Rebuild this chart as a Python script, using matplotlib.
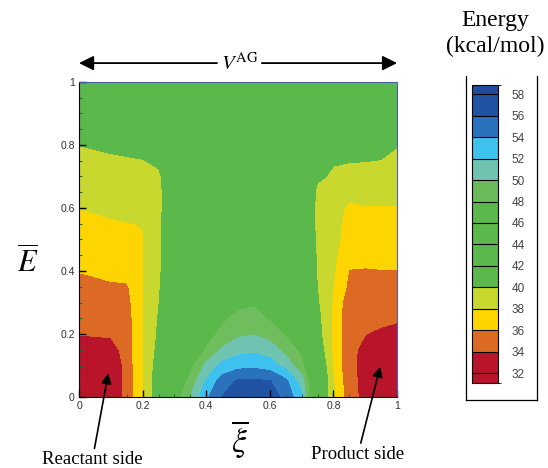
import numpy as np
import matplotlib
matplotlib.use('Agg')
import matplotlib.pyplot as plt
from matplotlib.colors import ListedColormap, BoundaryNorm
from matplotlib.cm import ScalarMappable
from matplotlib.ticker import MultipleLocator

plt.rcParams['mathtext.fontset'] = 'stix'

# grid nodes: reaction coordinate (xi bar) and normalised energy (E bar)
xi_nodes = [0.00, 0.05, 0.10, 0.15, 0.20, 0.25, 0.30, 0.35, 0.40, 0.45, 0.50,
            0.55, 0.60, 0.65, 0.70, 0.75, 0.80, 0.85, 0.90, 0.95, 1.00]
e_nodes = xi_nodes

# energy (kcal/mol), one row per E node, xi = 0 ... 1
e_000 = [31.0, 31.2, 31.7, 34.8, 37.8, 41.5, 46.8, 50.05, 53.6, 56.05, 57.2, 57.6, 57.0, 55.4, 52.4, 43.0, 38.36, 34.8, 33.37, 32.5, 32.0]
e_005 = [31.0, 31.2, 31.7, 34.8, 37.8, 41.3, 45.5, 48.7, 52.25, 54.94, 56.3, 56.35, 56.1, 54.5, 51.05, 43.5, 38.07, 34.5, 33.5, 32.6, 32.1]
e_010 = [31.0, 31.2, 31.8, 34.8, 37.8, 41.1, 44.5, 47.4, 50.43, 52.6, 53.3, 53.5, 53.0, 51.23, 48.69, 42.5, 37.76, 34.3, 33.6, 32.8, 32.2]
e_015 = [32.8, 32.85, 32.9, 35.0, 37.8, 40.6, 44.5, 46.0, 48.17, 50.3, 51.3, 51.6, 51.0, 49.3, 47.4, 41.5, 37.6, 34.3, 33.7, 33.2, 32.5]
e_020 = [34.1, 34.2, 34.35, 35.1, 37.8, 40.3, 44.5, 45.5, 47.2, 48.5, 49.6, 49.9, 49.2, 47.7, 46.0, 40.8, 37.6, 34.5, 34.02, 33.7, 33.5]
e_025 = [34.6, 34.7, 34.85, 35.1, 37.8, 40.14, 44.0, 45.0, 45.8, 47.6, 48.5, 48.8, 47.7, 46.5, 45.5, 40.6, 37.6, 34.4, 34.5, 34.4, 34.2]
e_030 = [35.1, 35.2, 35.35, 35.3, 37.9, 39.9, 42.5, 44.3, 45.0, 46.5, 47.5, 47.7, 46.8, 45.5, 44.8, 40.2, 37.8, 34.6, 35.0, 34.9, 34.75]
e_035 = [35.55, 35.65, 35.8, 35.7, 37.95, 39.75, 42.0, 44.0, 44.5, 45.5, 46.3, 46.5, 45.8, 45.0, 44.5, 39.95, 37.98, 35.5, 35.5, 35.4, 35.35]
e_040 = [36.05, 36.2, 36.4, 36.9, 37.95, 39.7, 41.6, 44.0, 44.0, 44.5, 45.2, 45.3, 45.0, 44.5, 44.3, 39.7, 38.2, 35.9, 35.9, 35.95, 35.95]
e_045 = [36.55, 36.7, 36.85, 37.0, 37.95, 39.65, 41.6, 44.0, 44.0, 44.0, 44.5, 44.5, 44.3, 44.0, 44.0, 39.6, 38.35, 36.8, 36.4, 36.45, 36.45]
e_050 = [37.05, 37.2, 37.3, 37.45, 37.9, 39.6, 41.8, 44.0, 44.0, 44.0, 44.0, 44.0, 44.0, 44.0, 44.0, 39.3, 38.5, 37.3, 36.9, 36.95, 36.95]
e_055 = [37.55, 37.7, 37.85, 37.95, 38.05, 39.6, 41.8, 44.0, 44.0, 44.0, 44.0, 44.0, 44.0, 44.0, 44.0, 39.2, 38.6, 37.4, 37.4, 37.4, 37.4]
e_060 = [38.02, 38.15, 38.3, 38.4, 38.55, 39.7, 41.0, 44.0, 44.0, 44.0, 44.0, 44.0, 44.0, 44.0, 44.0, 39.2, 38.7, 37.7, 37.9, 37.9, 37.9]
e_065 = [38.5, 38.65, 38.8, 38.9, 39.05, 39.7, 41.0, 44.0, 44.0, 44.0, 44.0, 44.0, 44.0, 44.0, 44.0, 39.3, 39.0, 38.5, 38.45, 38.45, 38.45]
e_070 = [39.0, 39.15, 39.3, 39.4, 39.5, 39.8, 41.0, 44.0, 44.0, 44.0, 44.0, 44.0, 44.0, 44.0, 44.0, 40.5, 39.6, 39.3, 39.2, 39.1, 38.95]
e_075 = [39.5, 39.65, 39.75, 39.85, 39.95, 40.2, 41.5, 44.0, 44.0, 44.0, 44.0, 44.0, 44.0, 44.0, 44.0, 40.8, 40.2, 40.1, 40.05, 39.95, 39.45]
e_080 = [40.02, 40.15, 40.3, 40.4, 40.5, 41.0, 42.0, 44.0, 44.0, 44.0, 44.0, 44.0, 44.0, 44.0, 44.0, 42.0, 41.0, 41.0, 41.0, 40.5, 40.1]
e_085 = [41.5, 41.6, 41.7, 41.8, 42.0, 42.5, 43.0, 44.0, 44.0, 44.0, 44.0, 44.0, 44.0, 44.0, 44.0, 43.0, 42.5, 42.5, 42.5, 42.0, 41.5]
e_090 = [43.0, 43.0, 43.2, 43.4, 43.5, 43.7, 44.0, 44.0, 44.0, 44.0, 44.0, 44.0, 44.0, 44.0, 44.0, 44.0, 43.7, 43.5, 43.5, 43.2, 43.0]
e_095 = [44.0] * 21
e_100 = [44.0] * 21

# contour bands (same-coloured bands merged) and their colours
fill_levels = [29, 34, 36, 38, 40, 48, 50, 52, 54, 56, 58, 60]
fill_colors = ['#b8142a', '#dd6a24', '#ffd500', '#c9d82f', '#5bb84a',
               '#6fbd5c', '#6ec4b0', '#3ec1ee', '#2b72bd', '#2152a3', '#1f4b9a']

# colour bar entries
cbar_bounds = [31.1, 32, 34, 36, 38, 40, 42, 44, 46, 48, 50, 52, 54, 56, 58, 58.85]
cbar_colors = ['#b8142a', '#b8142a', '#dd6a24', '#ffd500', '#c9d82f', '#5bb84a',
               '#5bb84a', '#5bb84a', '#5bb84a', '#6bba5a', '#6ec4b0', '#3ec1ee',
               '#2b72bd', '#2152a3', '#1f4b9a']
cbar_ticks = [32, 34, 36, 38, 40, 42, 44, 46, 48, 50, 52, 54, 56, 58]

tick_vals = [0, 0.2, 0.4, 0.6, 0.8, 1]
tick_text = ['0', '0.2', '0.4', '0.6', '0.8', '1']

energy = np.array([e_000, e_005, e_010, e_015, e_020, e_025, e_030, e_035, e_040,
                   e_045, e_050, e_055, e_060, e_065, e_070, e_075, e_080, e_085,
                   e_090, e_095, e_100])

fig = plt.figure(figsize=(5.48, 4.68), dpi=100)
ax = fig.add_axes([0.1442, 0.1517, 0.5803, 0.6731])

ax.contourf(xi_nodes, e_nodes, energy, levels=fill_levels, colors=fill_colors)
ax.set_xlim(0, 1)
ax.set_ylim(0, 1)

ax.set_xticks(tick_vals)
ax.set_xticklabels(tick_text)
ax.set_yticks(tick_vals)
ax.set_yticklabels(tick_text)
ax.xaxis.set_minor_locator(MultipleLocator(0.05))
ax.yaxis.set_minor_locator(MultipleLocator(0.05))
ax.tick_params(which='major', direction='in', length=5, width=1, color='black',
               labelsize=7.5, labelcolor='#333333', pad=3)
ax.tick_params(which='minor', direction='in', length=2.5, width=0.8, color='#2d6b2d')
for lab in ax.get_xticklabels() + ax.get_yticklabels():
    lab.set_family('Liberation Sans')
for s in ['bottom', 'left']:
    ax.spines[s].set_color('black')
for s in ['top', 'right']:
    ax.spines[s].set_color('#4a5fb0')

# axis labels
fig.text(0.051, 0.44, r'$\overline{E}$', fontsize=22, ha='center', va='center')
fig.text(0.438, 0.062, r'$\overline{\xi}$', fontsize=24, ha='center', va='center')

# V^AG double arrow above the map
arrow_kw = dict(arrowstyle='-|>', mutation_scale=22, color='black', lw=1.3,
                shrinkA=0, shrinkB=0)
ax.annotate('', xy=(0, 1.06), xytext=(0.434, 1.06), xycoords='axes fraction',
            arrowprops=arrow_kw, annotation_clip=False)
ax.annotate('', xy=(1, 1.06), xytext=(0.575, 1.06), xycoords='axes fraction',
            arrowprops=arrow_kw, annotation_clip=False)
ax.text(0.505, 1.06, r'$V^{\mathrm{AG}}$', transform=ax.transAxes, fontsize=15,
        ha='center', va='center')

# reactant / product side pointers
ax.annotate('Reactant side', xy=(0.092, 0.075), xytext=(0.042, -0.172),
            textcoords='data', ha='center', va='top', fontsize=13.5,
            family='Liberation Serif',
            arrowprops=dict(arrowstyle='-|>', mutation_scale=15, color='black',
                            lw=1.2, shrinkA=0, shrinkB=0),
            annotation_clip=False)
ax.annotate('Product side', xy=(0.947, 0.096), xytext=(0.877, -0.155),
            textcoords='data', ha='center', va='top', fontsize=13.5,
            family='Liberation Serif',
            arrowprops=dict(arrowstyle='-|>', mutation_scale=15, color='black',
                            lw=1.2, shrinkA=0, shrinkB=0),
            annotation_clip=False)

# colour bar frame
frame = fig.add_axes([0.8504, 0.1453, 0.1296, 0.6923])
frame.set_xticks([])
frame.set_yticks([])
frame.patch.set_alpha(0)
frame.spines['top'].set_visible(False)
for s in ['bottom', 'left', 'right']:
    frame.spines[s].set_linewidth(0.9)

cax = fig.add_axes([0.8613, 0.1816, 0.0474, 0.6368])
cmap = ListedColormap(cbar_colors)
norm = BoundaryNorm(cbar_bounds, cmap.N)
cb = fig.colorbar(ScalarMappable(norm=norm, cmap=cmap), cax=cax,
                  boundaries=cbar_bounds, ticks=cbar_ticks,
                  spacing='proportional', drawedges=True)
cb.outline.set_linewidth(0.8)
cb.dividers.set_linewidth(0.8)
cb.ax.tick_params(length=0, pad=10, labelsize=8.5, labelcolor='#444444')
for lab in cb.ax.get_yticklabels():
    lab.set_family('Liberation Sans')

fig.text(0.903, 0.957, 'Energy', fontsize=17, family='Liberation Serif',
         ha='center', va='center')
fig.text(0.903, 0.900, '(kcal/mol)', fontsize=17, family='Liberation Serif',
         ha='center', va='center')

fig.savefig('out.png', dpi=100)
